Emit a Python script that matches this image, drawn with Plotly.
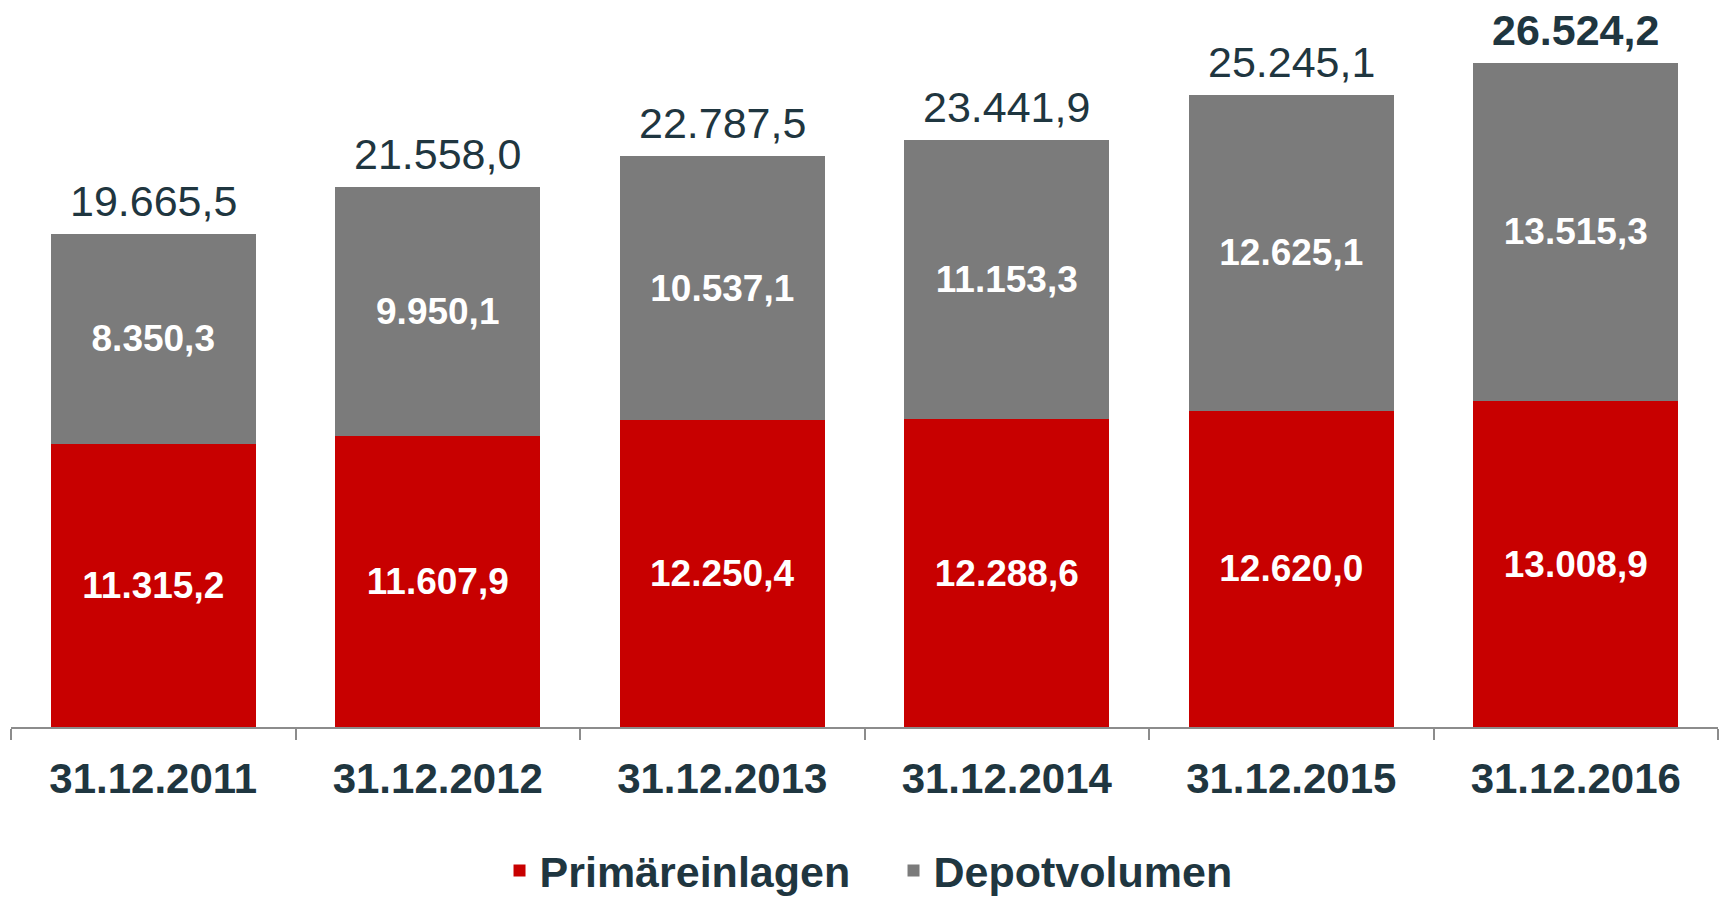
import plotly.graph_objects as go

categories = ["31.12.2011", "31.12.2012", "31.12.2013", "31.12.2014", "31.12.2015", "31.12.2016"]
primaereinlagen = [11315.2, 11607.9, 12250.4, 12288.6, 12620.0, 13008.9]
depotvolumen = [8350.3, 9950.1, 10537.1, 11153.3, 12625.1, 13515.3]
totals = [19665.5, 21558.0, 22787.5, 23441.9, 25245.1, 26524.2]

RED = "#c80000"
GRAY = "#7b7b7b"
DARK = "#1f3640"
FONT = "Arial, Liberation Sans, sans-serif"

fig = go.Figure()
fig.add_trace(go.Bar(
    x=categories, y=primaereinlagen, name="Primäreinlagen",
    marker=dict(color=RED, line=dict(width=0)),
    texttemplate="%{y:,.1f}", textposition="inside", insidetextanchor="middle",
    textangle=0, textfont=dict(color="white", size=37, family=FONT, weight="bold"),
))
fig.add_trace(go.Bar(
    x=categories, y=depotvolumen, name="Depotvolumen",
    marker=dict(color=GRAY, line=dict(width=0)),
    texttemplate="%{y:,.1f}", textposition="inside", insidetextanchor="middle",
    textangle=0, textfont=dict(color="white", size=37, family=FONT, weight="bold"),
))

for i, (c, t) in enumerate(zip(categories, totals)):
    s = f"{t:,.1f}".replace(",", "X").replace(".", ",").replace("X", ".")
    fig.add_annotation(
        x=c, y=t, text=s, showarrow=False, yanchor="bottom", yshift=7,
        font=dict(size=43, color=DARK, family=FONT,
                  weight="bold" if i == len(categories) - 1 else "normal"),
    )

fig.update_layout(
    width=1721, height=897,
    margin=dict(l=11, r=3, t=0, b=170, autoexpand=False),
    barmode="stack", bargap=0.28,
    separators=",.",
    plot_bgcolor="white", paper_bgcolor="white",
    font=dict(family=FONT, color=DARK),
    showlegend=True,
    legend=dict(orientation="h", x=0.517, xanchor="center",
                yref="container", y=0.068, yanchor="top",
                font=dict(size=43, color=DARK, family=FONT, weight="bold"),
                itemwidth=30, entrywidth=349, traceorder="normal"),
    xaxis=dict(showline=True, linecolor="#8c8c8c", linewidth=2, automargin=False,
               ticks="outside", tickson="boundaries", ticklen=11, tickwidth=2, tickcolor="#8c8c8c",
               ticklabelstandoff=14,
               tickfont=dict(size=42, color=DARK, family=FONT, weight="bold"),
               showgrid=False, zeroline=False),
    yaxis=dict(range=[0, 29023], visible=False, showgrid=False, zeroline=False),
)

fig.write_html("out.html", config={"displayModeBar": False},
               post_script="document.body.style.margin='0';document.body.style.overflow='hidden';")
